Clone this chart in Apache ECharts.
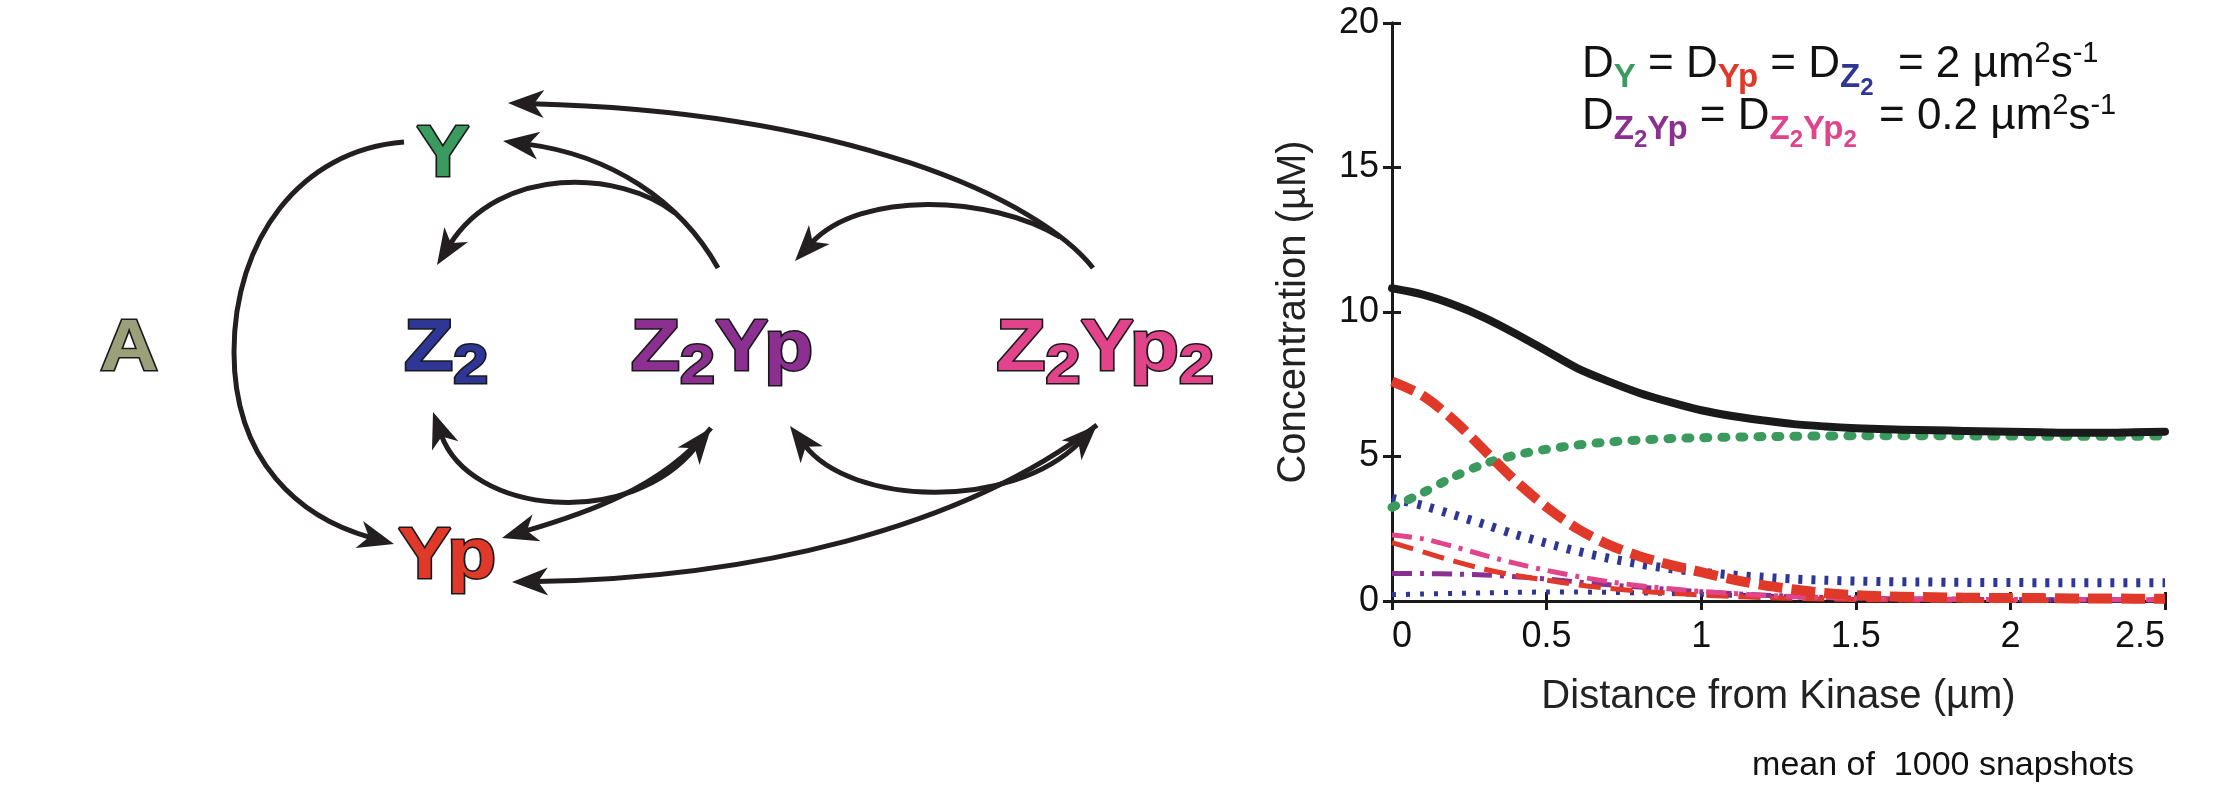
<!DOCTYPE html>
<html><head><meta charset="utf-8">
<script src="https://cdn.jsdelivr.net/npm/echarts@6/dist/echarts.min.js"></script>
<style>html,body{margin:0;padding:0;background:#fff}#c{width:2221px;height:790px}</style>
</head><body><div id="c"></div>
<script>
// ---------------- data ----------------
const xs = [0,0.1,0.2,0.3,0.4,0.5,0.6,0.7,0.8,0.9,1.0,1.1,1.2,1.3,1.4,1.5,1.6,1.7,1.8,1.9,2.0,2.1,2.2,2.3,2.4,2.5];
const totalY = [10.82,10.6,10.25,9.8,9.25,8.65,8.05,7.6,7.2,6.88,6.6,6.4,6.25,6.12,6.04,5.98,5.94,5.92,5.9,5.87,5.86,5.84,5.82,5.82,5.84,5.86];
const Y      = [3.24,3.75,4.3,4.75,5.05,5.25,5.4,5.5,5.57,5.62,5.65,5.67,5.69,5.7,5.71,5.72,5.72,5.72,5.72,5.71,5.71,5.7,5.7,5.7,5.7,5.71];
const Yp     = [7.6,7.1,6.25,5.2,4.15,3.25,2.5,1.95,1.55,1.25,1.0,0.75,0.55,0.4,0.28,0.2,0.16,0.14,0.12,0.11,0.1,0.1,0.09,0.09,0.08,0.08];
const Z2     = [3.55,3.3,2.98,2.65,2.3,2.0,1.72,1.48,1.28,1.12,1.0,0.9,0.82,0.76,0.72,0.69,0.67,0.66,0.65,0.64,0.64,0.63,0.63,0.63,0.63,0.63];
const Z2Yp2  = [2.28,2.15,1.88,1.58,1.3,1.06,0.85,0.67,0.53,0.42,0.33,0.26,0.2,0.15,0.12,0.1,0.08,0.07,0.06,0.05,0.05,0.04,0.04,0.04,0.04,0.04];
const Z2Yp   = [0.95,0.95,0.93,0.9,0.84,0.76,0.66,0.56,0.48,0.4,0.32,0.26,0.2,0.16,0.12,0.1,0.08,0.07,0.06,0.05,0.05,0.04,0.04,0.04,0.04,0.04];
const redThin  = [2.02,1.7,1.38,1.1,0.88,0.72,0.56,0.44,0.34,0.27,0.21,0.16,0.12,0.09,0.07,0.05,0.04,0.03,0.03,0.02,0.02,0.02,0.02,0.01,0.01,0.01];
const navyThin = [0.22,0.24,0.26,0.28,0.3,0.31,0.31,0.3,0.28,0.26,0.23,0.2,0.17,0.14,0.12,0.1,0.08,0.07,0.06,0.05,0.05,0.04,0.04,0.04,0.03,0.03];
const xTicks = [0, 0.5, 1, 1.5, 2, 2.5];
const yTicks = [0, 5, 10, 15, 20];
const xName = 'Distance from Kinase (µm)';
const yName = 'Concentration (µM)';
const footNote = 'mean of  1000 snapshots';

// ---------------- style ----------------
const C = {green:'#3b9a5e', red:'#e0392a', blue:'#2e3796', pink:'#e1448a', purple:'#8b2f90', black:'#1a1a1a', olive:'#9ca07a', line:'#231f20'};
const SANS = "'Liberation Sans', Arial, Helvetica, sans-serif";

const mctx = document.createElement('canvas').getContext('2d');
function fontStr(s, w, fam){ return (w||'normal') + ' ' + s + 'px ' + fam; }
function tw(t, s, w, fam){ mctx.font = fontStr(s, w, fam); return mctx.measureText(t).width; }
// lay out fragments on a baseline; align: 'left'|'center'; sx = horizontal stretch
function run(x, yBase, frags, fam, align, extra, sx){
  sx = sx || 1;
  let total = 0;
  frags.forEach(f => { f._w = tw(f.t, f.s, f.w, f.f||fam) * sx; total += f._w + (f.gap||0); });
  let cx = align === 'center' ? x - total/2 : x;
  const els = [];
  frags.forEach(f => {
    const yMid = yBase + (f.dy||0) - 0.34*f.s;
    const st = Object.assign({text:f.t, x:0, y:0, font:fontStr(f.s, f.w, f.f||fam), fill:f.c||'#111',
      textAlign:'left', textVerticalAlign:'middle', verticalAlign:'middle'}, extra||{});
    els.push({type:'text', x:cx, y:yMid, scaleX:sx, silent:true, style:st});
    cx += f._w + (f.gap||0);
  });
  return els;
}

// ---------------- diagram ----------------
const G = [];
const AL = 36, AW = 14, AN = 10;
function head(tx, ty, ux, uy){
  const nx = -uy, ny = ux;
  return {type:'polygon', silent:true, shape:{points:[[tx,ty],[tx-AL*ux+AW*nx, ty-AL*uy+AW*ny],[tx-(AL-AN)*ux, ty-(AL-AN)*uy],[tx-AL*ux-AW*nx, ty-AL*uy-AW*ny]]}, style:{fill:C.line}};
}
function unit(ax, ay, bx, by){ const l = Math.hypot(bx-ax, by-ay); return [(bx-ax)/l, (by-ay)/l]; }
function curve(p, hs, he){
  let [x0,y0,a,b,c,d,x1,y1] = p;
  const out = [];
  if (hs){ const u = unit(a,b,x0,y0); out.push(head(x0,y0,u[0],u[1])); x0 -= (AL-AN-2)*u[0]; y0 -= (AL-AN-2)*u[1]; }
  if (he){ const u = unit(c,d,x1,y1); out.push(head(x1,y1,u[0],u[1])); x1 -= (AL-AN-2)*u[0]; y1 -= (AL-AN-2)*u[1]; }
  G.push({type:'bezierCurve', silent:true, shape:{x1:x0,y1:y0,cpx1:a,cpy1:b,cpx2:c,cpy2:d,x2:x1,y2:y1}, style:{stroke:C.line, lineWidth:5, fill:null}});
  out.forEach(o => G.push(o));
}
curve([404,142, 300,150, 234,240, 234,352], false, false);
curve([234,352, 234,462, 300,518, 394,544], false, true);
curve([1093,268, 1040,200, 850,112, 508,103], false, true);
curve([718,268, 680,200, 610,155, 503,141], false, true);
curve([675,213, 620,170, 500,165, 437,265], false, true);
curve([1060,237, 990,195, 860,190, 795,261], false, true);
curve([433,412, 470,515, 630,530, 711,428], true, true);
curve([502,538, 580,515, 660,490, 711,428], true, false);
curve([790,426, 850,505, 1010,512, 1097,425], true, true);
curve([512,582, 750,578, 960,530, 1097,425], true, false);

// node labels
const NS = 72, SS = 56, NB = 31, NSX = 1.12;
const nodeExtra = {stroke:'#1a1a1a', lineWidth:3};
function node(cx, cy, frags){ run(cx, cy + NB, frags, SANS, 'center', nodeExtra, NSX).forEach(e => G.push(e)); }
node(443,150, [{t:'Y', s:NS, w:'bold', c:C.green}]);
node(129,344, [{t:'A', s:NS, w:'bold', c:C.olive}]);
node(446,344, [{t:'Z', s:NS, w:'bold', c:C.blue}, {t:'2', s:SS, w:'bold', c:C.blue, dy:12}]);
node(722,344, [{t:'Z', s:NS, w:'bold', c:C.purple}, {t:'2', s:SS, w:'bold', c:C.purple, dy:12}, {t:'Yp', s:NS, w:'bold', c:C.purple}]);
node(1105,344, [{t:'Z', s:NS, w:'bold', c:C.pink}, {t:'2', s:SS, w:'bold', c:C.pink, dy:12}, {t:'Yp', s:NS, w:'bold', c:C.pink}, {t:'2', s:SS, w:'bold', c:C.pink, dy:12}]);
node(447,552, [{t:'Yp', s:NS, w:'bold', c:C.red}]);

// equations
const M = 44, S1 = 33, S2 = 24, SP = 29;
run(1582, 80, [
  {t:'D', s:M}, {t:'Y', s:S1, w:'bold', c:C.green, dy:9},
  {t:' = D', s:M}, {t:'Yp', s:S1, w:'bold', c:C.red, dy:9},
  {t:' = D', s:M}, {t:'Z', s:S1, w:'bold', c:C.blue, dy:9}, {t:'2', s:S2, w:'bold', c:C.blue, dy:17},
  {t:'  = 2 µm', s:M}, {t:'2', s:SP, dy:-16}, {t:'s', s:M}, {t:'-1', s:SP, dy:-16}
], SANS, 'left').forEach(e => G.push(e));
run(1582, 132, [
  {t:'D', s:M}, {t:'Z', s:S1, w:'bold', c:C.purple, dy:9}, {t:'2', s:S2, w:'bold', c:C.purple, dy:17}, {t:'Yp', s:S1, w:'bold', c:C.purple, dy:9},
  {t:' = D', s:M}, {t:'Z', s:S1, w:'bold', c:C.pink, dy:9}, {t:'2', s:S2, w:'bold', c:C.pink, dy:17}, {t:'Yp', s:S1, w:'bold', c:C.pink, dy:9}, {t:'2', s:S2, w:'bold', c:C.pink, dy:17, gap:10},
  {t:' = 0.2 µm', s:M}, {t:'2', s:SP, dy:-16}, {t:'s', s:M}, {t:'-1', s:SP, dy:-16}
], SANS, 'left').forEach(e => G.push(e));

G.push({type:'text', x:1943, y:766, silent:true, style:{text:footNote, font:fontStr(34,'normal',SANS), fill:'#111', textAlign:'center', textVerticalAlign:'middle', verticalAlign:'middle'}});

// ---------------- chart ----------------
const pairs = arr => xs.map((x,i) => [x, arr[i]]);
function ser(name, arr, color, width, type, cap, z){
  return {name, type:'line', data:pairs(arr), symbol:'none', smooth:0.3, z:z,
    lineStyle:{color, width, type, cap:cap||'butt', join:'round'}};
}
const axisLineStyle = {color:C.black, width:3};
const tickStyle = {inside:true, length:9, lineStyle:{width:3, color:C.black}};
const chart = echarts.init(document.getElementById('c'), null, {renderer:'canvas'});
chart.setOption({
  animation:false,
  backgroundColor:'#fff',
  grid:{left:1392, top:23, width:773, height:578},
  xAxis:[
    {type:'value', min:xTicks[0], max:xTicks[xTicks.length-1], interval:0.5, position:'bottom',
      axisLine:{lineStyle:axisLineStyle}, axisTick:tickStyle,
      axisLabel:{fontSize:36, fontFamily:SANS, color:'#111', margin:18, alignMinLabel:'left', alignMaxLabel:'right'},
      splitLine:{show:false},
      name:xName, nameLocation:'middle', nameGap:76, nameTextStyle:{fontSize:40, fontFamily:SANS, color:'#222'}},
    {type:'value', min:xTicks[0], max:xTicks[xTicks.length-1], interval:0.5, position:'top',
      axisLine:{lineStyle:axisLineStyle}, axisTick:tickStyle, axisLabel:{show:false}, splitLine:{show:false}}
  ],
  yAxis:[
    {type:'value', min:yTicks[0], max:yTicks[yTicks.length-1], interval:5, position:'left',
      axisLine:{lineStyle:axisLineStyle}, axisTick:tickStyle,
      axisLabel:{fontSize:36, fontFamily:SANS, color:'#111', margin:13},
      splitLine:{show:false},
      name:yName, nameLocation:'middle', nameGap:78, nameTextStyle:{fontSize:40, fontFamily:SANS, color:'#222'}},
    {type:'value', min:yTicks[0], max:yTicks[yTicks.length-1], interval:5, position:'right',
      axisLine:{lineStyle:axisLineStyle}, axisTick:tickStyle, axisLabel:{show:false}, splitLine:{show:false}}
  ],
  series:[
    ser('navy', navyThin, C.blue, 5, [4,10], 'butt', 2),
    ser('Z2Yp', Z2Yp, C.purple, 5, [20,8,4,8], 'butt', 3),
    ser('red thin', redThin, C.red, 5, [22,10], 'butt', 4),
    ser('Z2Yp2', Z2Yp2, C.pink, 5, [20,8,4,8], 'butt', 5),
    ser('Z2', Z2, C.blue, 9, [4,9], 'butt', 6),
    ser('Y', Y, C.green, 9, [4,14], 'round', 7),
    ser('Yp', Yp, C.red, 10, [24,9], 'butt', 8),
    ser('total', totalY, C.black, 8, 'solid', 'round', 9)
  ],
  graphic:{elements:G}
});
</script>
</body></html>
